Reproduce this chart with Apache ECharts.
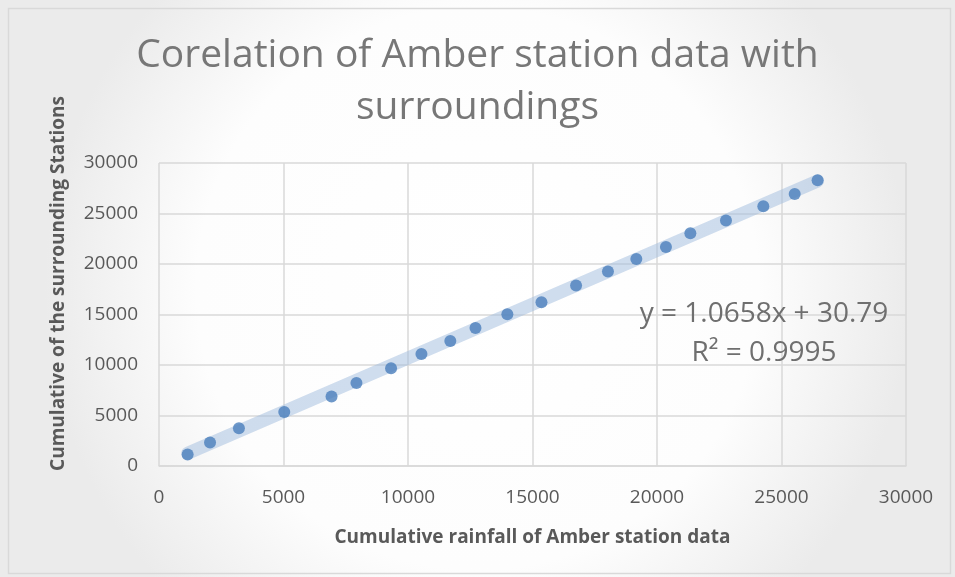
<!DOCTYPE html>
<html>
<head>
<meta charset="utf-8">
<script src="https://cdn.jsdelivr.net/npm/echarts@6/dist/echarts.min.js"></script>
<style>
  html, body { margin: 0; padding: 0; background: #fff; }
  #chart { width: 955px; height: 577px; }
</style>
</head>
<body>
<div id="chart"></div>
<script>
// cumulative rainfall, Amber station (x) vs surrounding stations (y)
const amberCum = [1150, 2050, 3210, 5030, 6930, 7930, 9320, 10540, 11700, 12710, 13990, 15360,
  16750, 18030, 19170, 20360, 21340, 22770, 24270, 25530, 26450]
const surroundCum = [1130, 2320, 3730, 5350, 6870, 8220, 9670, 11090, 12380, 13660, 15020, 16210,
  17860, 19250, 20500, 21680, 23040, 24300, 25710, 26930, 28290]
const slope = 1.0658
const intercept = 30.79
const rSquared = '0.9995'
const axisTicks = [0, 5000, 10000, 15000, 20000, 25000, 30000]

const points = amberCum.map((x, i) => [x, surroundCum[i]])
const xFirst = Math.min(...amberCum)
const xLast = Math.max(...amberCum)
const trend = [[xFirst, slope * xFirst + intercept], [xLast, slope * xLast + intercept]]

const font = '"Open Sans", "DejaVu Sans", sans-serif'
const grey = '#595959'

const myChart = echarts.init(document.getElementById('chart'))
myChart.setOption({
  backgroundColor: {
    type: 'radial', x: 0.5, y: 0.5, r: 0.75,
    colorStops: [{ offset: 0, color: '#ffffff' }, { offset: 0.65, color: '#fdfdfd' }, { offset: 1, color: '#ebebeb' }]
  },
  animation: false,
  title: {
    text: 'Corelation of Amber station data with\nsurroundings',
    left: 'center',
    top: 25,
    textStyle: { fontFamily: font, fontWeight: 'normal', fontSize: 39, color: '#777777', lineHeight: 52 }
  },
  grid: { left: 159, right: 49, top: 163, bottom: 111 },
  xAxis: {
    type: 'value',
    min: 0, max: 30000, interval: 5000,
    name: 'Cumulative rainfall of Amber station data',
    nameLocation: 'middle',
    nameGap: 62,
    nameTextStyle: { fontFamily: font, fontWeight: 'bold', fontSize: 19, color: grey },
    axisLine: { show: true, lineStyle: { color: '#d9d9d9', width: 1.5 } },
    axisTick: { show: false },
    splitLine: { show: true, lineStyle: { color: '#d9d9d9', width: 1.5 } },
    axisLabel: { fontFamily: font, fontSize: 19, color: grey, margin: 22, formatter: v => axisTicks.includes(v) ? String(v) : '' }
  },
  yAxis: {
    type: 'value',
    min: 0, max: 30000, interval: 5000,
    name: 'Cumulative of the surrounding Stations',
    nameLocation: 'middle',
    nameGap: 91,
    nameTextStyle: { fontFamily: font, fontWeight: 'bold', fontSize: 19, color: grey, padding: [0, 0, 0, 62] },
    axisLine: { show: false },
    axisTick: { show: false },
    splitLine: { show: true, lineStyle: { color: '#d9d9d9', width: 1.5 } },
    axisLabel: { fontFamily: font, fontSize: 19, color: grey, margin: 21, formatter: v => axisTicks.includes(v) ? String(v) : '' }
  },
  graphic: [
    {
      type: 'rect', left: 6, top: 6, z: -1,
      shape: { width: 942, height: 565 },
      style: { fill: 'none', stroke: '#d9d9d9', lineWidth: 1.5 }
    },
    {
      type: 'text', x: 764, y: 314, z: 10,
      style: { text: 'y = ' + slope + 'x + ' + intercept, fontFamily: font, fontSize: 28, fill: '#6f6f6f', align: 'center', verticalAlign: 'middle' }
    },
    {
      type: 'text', x: 764, y: 353, z: 10,
      style: { text: 'R² = ' + rSquared, fontFamily: font, fontSize: 28, fill: '#6f6f6f', align: 'center', verticalAlign: 'middle' }
    }
  ],
  series: [
    {
      name: 'Linear trend',
      type: 'line',
      data: trend,
      symbol: 'none',
      silent: true,
      lineStyle: { color: 'rgba(160, 188, 222, 0.5)', width: 13, cap: 'round' },
      z: 1
    },
    {
      name: 'Stations',
      type: 'scatter',
      data: points,
      symbolSize: 12,
      itemStyle: { color: '#4a7ebb' },
      z: 3
    }
  ]
})
</script>
</body>
</html>
